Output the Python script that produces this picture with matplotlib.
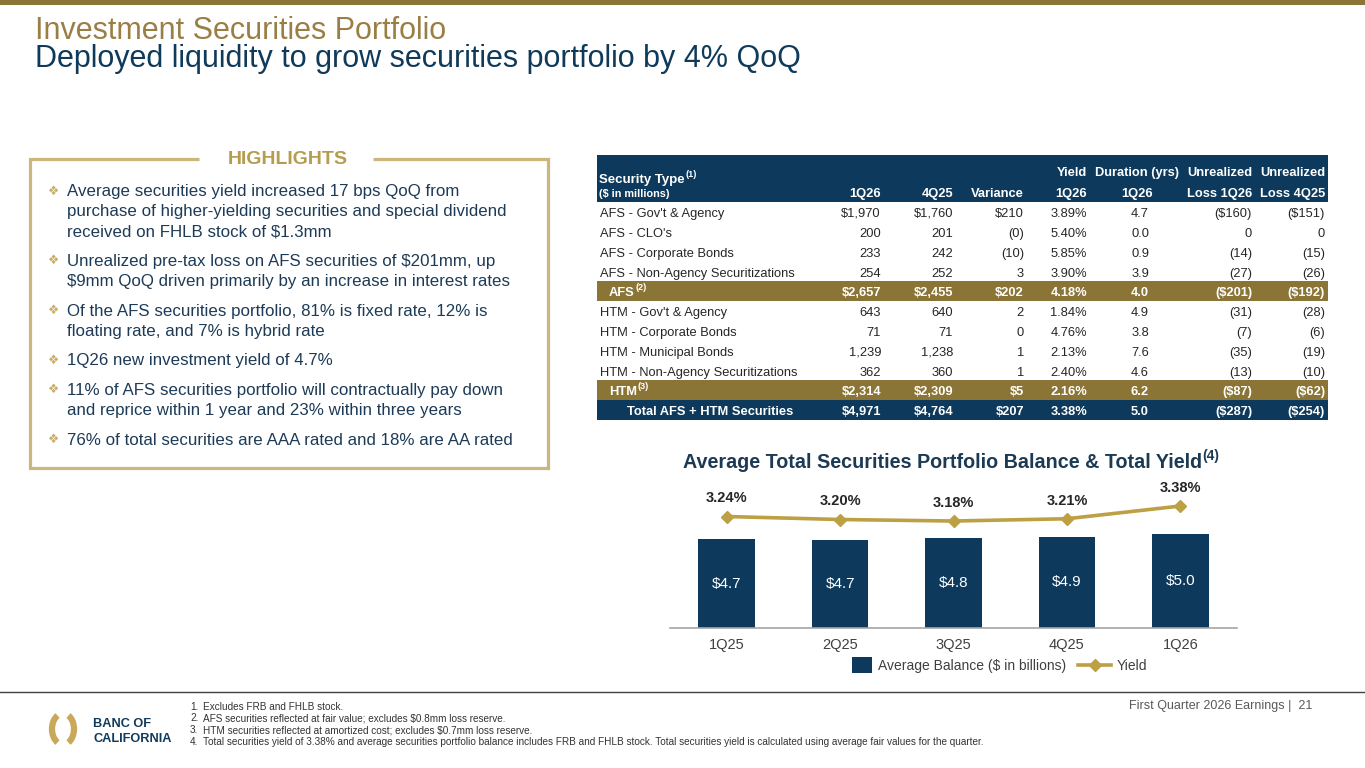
import matplotlib
matplotlib.use("Agg")
import matplotlib.pyplot as plt
from matplotlib.patches import Rectangle, Arc
from matplotlib.lines import Line2D

plt.rcParams['font.family'] = ['Liberation Sans', 'DejaVu Sans']

NAVY = '#0d3a5c'
GOLD = '#8b7536'
LINE_GOLD = '#bca043'
BOX_GOLD = '#cbb77e'
TEXT = '#1d3b57'
DARK = '#262626'

#chart data
quarters = ['1Q25', '2Q25', '3Q25', '4Q25', '1Q26']
avg_balance = [4.72, 4.68, 4.76, 4.86, 5.01]
total_yield = [3.24, 3.20, 3.18, 3.21, 3.38]

#table data
sec_types = ["AFS - Gov't & Agency", "AFS - CLO's", "AFS - Corporate Bonds",
             "AFS - Non-Agency Securitizations", "AFS",
             "HTM - Gov't & Agency", "HTM - Corporate Bonds", "HTM - Municipal Bonds",
             "HTM - Non-Agency Securitizations", "HTM", "Total AFS + HTM Securities"]
row_kind = ['row', 'row', 'row', 'row', 'sub', 'row', 'row', 'row', 'row', 'sub', 'total']
row_sup = {4: '(2)', 9: '(3)'}
bal_1q26 = ['$1,970', '200', '233', '254', '$2,657', '643', '71', '1,239', '362', '$2,314', '$4,971']
bal_4q25 = ['$1,760', '201', '242', '252', '$2,455', '640', '71', '1,238', '360', '$2,309', '$4,764']
variance = ['$210', '(0)', '(10)', '3', '$202', '2', '0', '1', '1', '$5', '$207']
yield_1q26 = ['3.89%', '5.40%', '5.85%', '3.90%', '4.18%', '1.84%', '4.76%', '2.13%', '2.40%', '2.16%', '3.38%']
duration = ['4.7', '0.0', '0.9', '3.9', '4.0', '4.9', '3.8', '7.6', '4.6', '6.2', '5.0']
loss_1q26 = ['($160)', '0', '(14)', '(27)', '($201)', '(31)', '(7)', '(35)', '(13)', '($87)', '($287)']
loss_4q25 = ['($151)', '0', '(15)', '(26)', '($192)', '(28)', '(6)', '(19)', '(10)', '($62)', '($254)']

highlights = [
    ["Average securities yield increased 17 bps QoQ from",
     "purchase of higher-yielding securities and special dividend",
     "received on FHLB stock of $1.3mm"],
    ["Unrealized pre-tax loss on AFS securities of $201mm, up",
     "$9mm QoQ driven primarily by an increase in interest rates"],
    ["Of the AFS securities portfolio, 81% is fixed rate, 12% is",
     "floating rate, and 7% is hybrid rate"],
    ["1Q26 new investment yield of 4.7%"],
    ["11% of AFS securities portfolio will contractually pay down",
     "and reprice within 1 year and 23% within three years"],
    ["76% of total securities are AAA rated and 18% are AA rated"],
]

footnotes = [
    "Excludes FRB and FHLB stock.",
    "AFS securities reflected at fair value; excludes $0.8mm loss reserve.",
    "HTM securities reflected at amortized cost; excludes $0.7mm loss reserve.",
    "Total securities yield of 3.38% and average securities portfolio balance includes FRB and FHLB stock. "
    "Total securities yield is calculated using average fair values for the quarter.",
]

W, H = 1365, 768
fig = plt.figure(figsize=(W / 100, H / 100), dpi=100)
bg = fig.add_axes([0, 0, 1, 1])
bg.set_xlim(0, W)
bg.set_ylim(H, 0)
bg.axis('off')
renderer = fig.canvas.get_renderer()


def txt(x, y, s, size, color, weight='normal', ha='left', **kw):
    # y is the visual middle of the capitals, text sits on a baseline below it
    return bg.text(x, y + 0.36 * size * 100 / 72, s, fontsize=size, color=color, weight=weight,
                   ha=ha, va='baseline', **kw)


def sup_text(x, y, main, sup, size, color, weight='normal', sup_size=None):
    t = txt(x, y, main, size, color, weight)
    ext = t.get_window_extent(renderer)
    txt(ext.x1 + 0.5, y - size * 0.45, sup, sup_size or size * 0.62, color, weight)


#top bar and titles
bg.add_patch(Rectangle((0, 0), W, 5, color=GOLD, lw=0))
txt(35, 28, "Investment Securities Portfolio", 22, '#9a7f45')
txt(35, 56, "Deployed liquidity to grow securities portfolio by 4% QoQ", 22, '#0f3a5a')

#highlights box
bx0, bx1, by0, by1 = 30, 548, 159, 468
bg.plot([373, bx1, bx1, bx0, bx0, 199], [by0, by0, by1, by1, by0, by0], color=BOX_GOLD, lw=2.3,
        solid_joinstyle='miter', solid_capstyle='butt')
txt(288, 157, "HIGHLIGHTS", 14, '#b59c4f', weight='bold', ha='center')

y = 190
for lines in highlights:
    txt(54, y, "\u2756", 9, '#c8ad66', ha='center', family=['DejaVu Sans'])
    for ln in lines:
        txt(67, y, ln, 12.2, TEXT)
        y += 20.2
    y += 9.3

#table
tx0, tx1 = 597, 1328
bg.add_patch(Rectangle((tx0, 155), tx1 - tx0, 47, color=NAVY, lw=0))
sup_text(599, 178, "Security Type", "(1)", 9.5, 'white', weight='bold', sup_size=6.5)
txt(599, 193, "($ in millions)", 7.8, 'white', weight='bold')
col_x = [881, 953, 1024, 1087, 1137, 1252, 1325]
col_ha = ['right', 'right', 'right', 'right', 'center', 'right', 'right']
head1 = ['', '', '', 'Yield', 'Duration (yrs)', 'Unrealized', 'Unrealized']
head2 = ['1Q26', '4Q25', 'Variance', '1Q26', '1Q26', 'Loss 1Q26', 'Loss 4Q25']
for cx, ha, h1, h2 in zip(col_x, col_ha, head1, head2):
    txt(cx, 171, h1, 9.3, 'white', weight='bold', ha=ha)
    txt(cx, 192, h2, 9.3, 'white', weight='bold', ha=ha)

row_y = [212, 232, 252, 272, 291, 311, 331, 351, 371, 390, 410]
for i, ry in enumerate(row_y):
    kind = row_kind[i]
    if kind == 'row':
        col, wt, lx = DARK, 'normal', 600
    else:
        col, wt = 'white', 'bold'
        lx = 609 if kind == 'sub' else 627
        fill = GOLD if kind == 'sub' else NAVY
        bg.add_patch(Rectangle((tx0, ry - 10), tx1 - tx0, 20, color=fill, lw=0))
    if i in row_sup:
        sup_text(lx, ry, sec_types[i], row_sup[i], 9.3, col, weight=wt, sup_size=6.5)
    else:
        txt(lx, ry, sec_types[i], 9.3, col, weight=wt)
    vals = [bal_1q26[i], bal_4q25[i], variance[i], yield_1q26[i], duration[i], loss_1q26[i], loss_4q25[i]]
    for cx, ha, v in zip(col_x, col_ha, vals):
        txt(cx + (3 if ha == 'center' else 0), ry, v, 9.3, col, weight=wt, ha=ha)

#chart title
sup_text(683, 461, "Average Total Securities Portfolio Balance & Total Yield", "(4)", 14.2,
         '#1d3a55', weight='bold', sup_size=10)

#bar + line chart
ax = fig.add_axes([670 / W, (H - 628) / H, 567 / W, 148 / H])
xs = range(len(quarters))
ax.bar(xs, avg_balance, width=0.5, color=NAVY)
for x, v in zip(xs, avg_balance):
    ax.text(x, v / 2, f"${v:.1f}", ha='center', va='center', color='white', fontsize=11)
ax.set_xlim(-0.5, 4.5)
ax.set_ylim(0, 7.87)
ax.set_xticks(list(xs))
ax.set_xticklabels(quarters, fontsize=10.5, color='#404040')
ax.tick_params(axis='x', length=0, pad=7)
ax.set_yticks([])
for s in ['top', 'left', 'right']:
    ax.spines[s].set_visible(False)
ax.spines['bottom'].set_color('#a6a6a6')
ax.spines['bottom'].set_linewidth(1.2)
ax.patch.set_alpha(0)

ax2 = ax.twinx()
ax2.plot(xs, total_yield, color=LINE_GOLD, lw=2.6, marker='D', ms=6.5)
for x, v in zip(xs, total_yield):
    ax2.annotate(f"{v:.2f}%", (x, v), xytext=(0, 13), textcoords='offset points',
                 ha='center', va='center', fontsize=10.5, weight='bold', color=DARK)
ax2.set_ylim(1.753, 3.727)
ax2.axis('off')

#legend
bg.add_patch(Rectangle((852, 657), 20, 16, color=NAVY, lw=0))
txt(878, 665, "Average Balance ($ in billions)", 10, '#404040')
bg.add_line(Line2D([1078, 1111], [665, 665], color=LINE_GOLD, lw=2.6))
bg.add_line(Line2D([1094.5], [665], color=LINE_GOLD, marker='D', ms=6.5))
txt(1117, 665, "Yield", 10, '#404040')

#footer
bg.plot([0, W], [692, 692], color='#3f3f3f', lw=1)
bg.add_patch(Arc((63, 729), 22, 31, theta1=112, theta2=248, color='#c9a959', lw=4.5))
bg.add_patch(Arc((63, 729), 22, 31, theta1=-68, theta2=68, color='#c9a959', lw=4.5))
txt(93, 722, "BANC OF", 9.2, '#123a5c', weight='bold')
txt(93, 737, "CALIFORNIA", 9.2, '#123a5c', weight='bold')
for i, fn in enumerate(footnotes):
    fy = 706 + i * 11.8
    txt(190, fy, f"{i + 1}.", 7.2, '#333333')
    txt(203, fy, fn, 7.2, '#333333')
txt(1312, 705, "First Quarter 2026 Earnings |  21", 9, '#595959', ha='right')

fig.savefig("out.png", dpi=100)
